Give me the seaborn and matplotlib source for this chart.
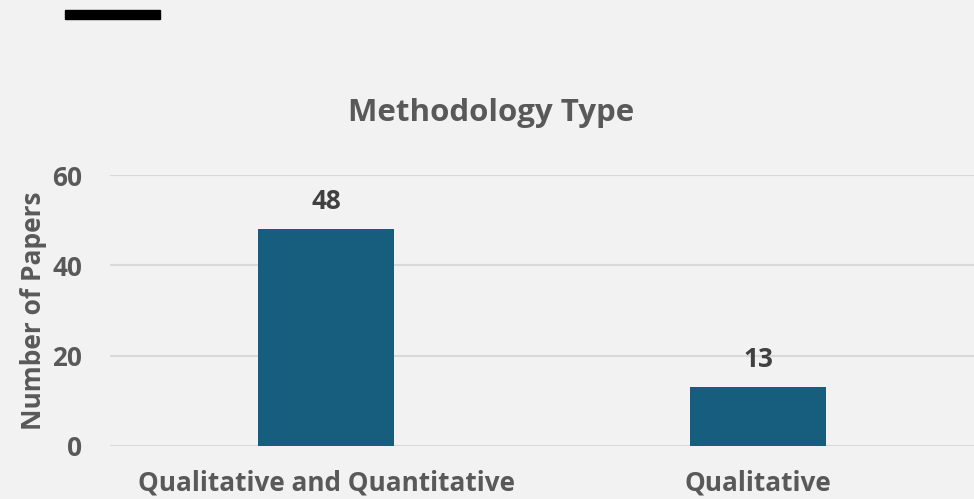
import matplotlib
matplotlib.use("Agg")
import matplotlib.pyplot as plt
import seaborn as sns
import pandas as pd
from matplotlib.patches import Rectangle

# Data
categories = ["Qualitative and Quantitative", "Qualitative"]
papers = [48, 13]
yticks = [0, 20, 40, 60]

BG = "#f2f2f2"
BAR = "#175e7e"
TXT = "#595959"

sns.set_theme(style="white")
plt.rcParams["font.family"] = ["Open Sans", "DejaVu Sans"]

df = pd.DataFrame({"Methodology": categories, "Papers": papers})

fig = plt.figure(figsize=(9.74, 4.99), dpi=100, facecolor=BG)
ax = fig.add_axes([110 / 974, 1 - 446 / 499, 864 / 974, 271 / 499])
ax.set_facecolor(BG)

sns.barplot(data=df, x="Methodology", y="Papers", color=BAR, width=0.315,
            saturation=1, linewidth=0, ax=ax)

ax.set_ylim(0, 60)
ax.set_xlim(-0.5, 1.5)
ax.set_yticks(yticks)
ax.yaxis.grid(True, color="#d9d9d9", linewidth=1.5)
ax.set_axisbelow(True)
for s in ax.spines.values():
    s.set_visible(False)

ax.tick_params(axis="both", length=0, labelsize=18.8, labelcolor=TXT)
ax.tick_params(axis="y", pad=20)
ax.tick_params(axis="x", pad=17)
for lab in ax.get_xticklabels() + ax.get_yticklabels():
    lab.set_fontweight("bold")

ax.set_xlabel("")
ax.set_ylabel("Number of Papers", fontsize=19, fontweight="bold", color=TXT,
              labelpad=4)

for c in ax.containers:
    ax.bar_label(c, fmt="%d", padding=10, fontsize=18.8, fontweight="bold",
                 color="#404040")

fig.text(491 / 974, 1 - 113 / 499, "Methodology Type", ha="center",
         va="center", fontsize=22.5, fontweight="bold", color=TXT)

# black bar in top-left corner
fig.add_artist(Rectangle((65 / 974, 1 - 19 / 499), 95 / 974, 9 / 499,
                         transform=fig.transFigure, color="black"))

fig.savefig("out.png", dpi=100, facecolor=BG)
